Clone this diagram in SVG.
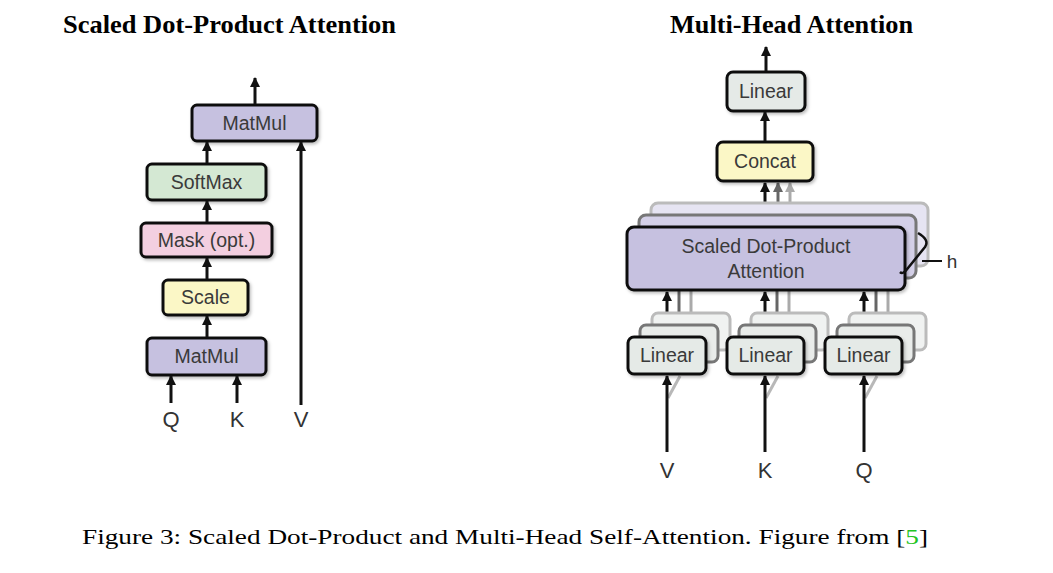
<svg xmlns="http://www.w3.org/2000/svg" width="1053" height="573" viewBox="0 0 1053 573">
<style>
.box{stroke:#111;stroke-width:3}
.lbl{font-family:"Liberation Sans",Arial,sans-serif;font-size:19.5px;fill:#3a3a3a;text-anchor:middle}
.io{font-family:"Liberation Sans",Arial,sans-serif;font-size:22px;fill:#333;text-anchor:middle}
.ttl{font-family:"Liberation Serif","Times New Roman",serif;font-size:25px;font-weight:bold;fill:#000}
.cap{font-family:"Liberation Serif","Times New Roman",serif;font-size:22px;fill:#000}
.ln{stroke:#111;stroke-width:3;fill:none}
.g1{stroke:#666;stroke-width:3;fill:none}
.g2{stroke:#aaa;stroke-width:3;fill:none}
.purple{fill:#c6c1e0}
.green{fill:#d4e8d3}
.pink{fill:#f3cfe0}
.yellow{fill:#fbf7c6}
.grey{fill:#e5eae7}
</style>
<defs>
<marker id="ah" viewBox="0 0 10 10" refX="9" refY="5" markerWidth="3.4" markerHeight="3.4" orient="auto"><path d="M0,0 L10,5 L0,10 z" fill="#111"/></marker>
<marker id="ah1" viewBox="0 0 10 10" refX="9" refY="5" markerWidth="3.4" markerHeight="3.4" orient="auto"><path d="M0,0 L10,5 L0,10 z" fill="#666"/></marker>
<marker id="ah2" viewBox="0 0 10 10" refX="9" refY="5" markerWidth="3.4" markerHeight="3.4" orient="auto"><path d="M0,0 L10,5 L0,10 z" fill="#aaa"/></marker>
<filter id="sh" x="-10%" y="-20%" width="130%" height="150%"><feDropShadow dx="1.5" dy="2" stdDeviation="1.5" flood-color="#000" flood-opacity="0.25"/></filter>
</defs>
<rect width="1053" height="573" fill="#fff"/>

<text class="ttl" x="63" y="33" textLength="333" lengthAdjust="spacingAndGlyphs">Scaled Dot-Product Attention</text>
<text class="ttl" x="670" y="33" textLength="243" lengthAdjust="spacingAndGlyphs">Multi-Head Attention</text>

<g id="connectors">
<line class="ln" x1="255" y1="105" x2="255" y2="78" marker-end="url(#ah)"/>
<line class="ln" x1="207" y1="164" x2="207" y2="142" marker-end="url(#ah)"/>
<line class="ln" x1="207" y1="223" x2="207" y2="201" marker-end="url(#ah)"/>
<line class="ln" x1="207" y1="280" x2="207" y2="258" marker-end="url(#ah)"/>
<line class="ln" x1="207" y1="338" x2="207" y2="316" marker-end="url(#ah)"/>
<line class="ln" x1="171" y1="403" x2="171" y2="376" marker-end="url(#ah)"/>
<line class="ln" x1="237" y1="403" x2="237" y2="376" marker-end="url(#ah)"/>
<line class="ln" x1="301" y1="405" x2="301" y2="142" marker-end="url(#ah)"/>
<line class="ln" x1="766" y1="72" x2="766" y2="47" marker-end="url(#ah)"/>
<line class="ln" x1="765" y1="142" x2="765" y2="112" marker-end="url(#ah)"/>
<line class="g2" x1="790" y1="203" x2="790" y2="183" marker-end="url(#ah2)"/>
<line class="g1" x1="778" y1="215" x2="778" y2="183" marker-end="url(#ah1)"/>
<line class="ln" x1="765" y1="227" x2="765" y2="183" marker-end="url(#ah)"/>
<line class="g2" x1="691" y1="313" x2="691" y2="278"/>
<line class="g1" x1="679" y1="325" x2="679" y2="290"/>
<line class="ln" x1="667" y1="337" x2="667" y2="292" marker-end="url(#ah)"/>
<line class="g2" x1="789" y1="313" x2="789" y2="278"/>
<line class="g1" x1="777" y1="325" x2="777" y2="290"/>
<line class="ln" x1="765" y1="337" x2="765" y2="292" marker-end="url(#ah)"/>
<line class="g2" x1="888" y1="313" x2="888" y2="278"/>
<line class="g1" x1="876" y1="325" x2="876" y2="290"/>
<line class="ln" x1="864" y1="337" x2="864" y2="292" marker-end="url(#ah)"/>
<path d="M668,398 L680,376" stroke="#888" stroke-width="3" opacity="0.6" fill="none"/>
<path d="M766,398 L778,376" stroke="#888" stroke-width="3" opacity="0.6" fill="none"/>
<path d="M865,398 L877,376" stroke="#888" stroke-width="3" opacity="0.6" fill="none"/>
<line class="ln" x1="667" y1="452" x2="667" y2="376" marker-end="url(#ah)"/>
<line class="ln" x1="765" y1="452" x2="765" y2="376" marker-end="url(#ah)"/>
<line class="ln" x1="864" y1="452" x2="864" y2="376" marker-end="url(#ah)"/>
</g>

<g id="matmul-top"><rect class="box purple" x="192" y="105" width="125" height="36" rx="5" filter="url(#sh)"/><text class="lbl" x="254.5" y="130">MatMul</text></g>
<g id="softmax"><rect class="box green" x="147" y="164" width="119" height="36" rx="5" filter="url(#sh)"/><text class="lbl" x="206.5" y="189">SoftMax</text></g>
<g id="mask"><rect class="box pink" x="141" y="223" width="131" height="34" rx="5" filter="url(#sh)"/><text class="lbl" x="206.5" y="247">Mask (opt.)</text></g>
<g id="scale"><rect class="box yellow" x="163" y="280" width="85" height="35" rx="5" filter="url(#sh)"/><text class="lbl" x="205.5" y="304">Scale</text></g>
<g id="matmul-bottom"><rect class="box purple" x="147" y="338" width="119" height="37" rx="5" filter="url(#sh)"/><text class="lbl" x="206.5" y="363">MatMul</text></g>
<g id="q-left"><text class="io" x="171" y="427">Q</text></g>
<g id="k-left"><text class="io" x="237" y="427">K</text></g>
<g id="v-left"><text class="io" x="301" y="427">V</text></g>

<g id="linear-top"><rect class="box grey" x="727" y="72" width="78" height="39" rx="6" filter="url(#sh)"/><text class="lbl" x="766" y="98">Linear</text></g>
<g id="concat"><rect class="box yellow" x="717" y="142" width="96" height="39" rx="6" filter="url(#sh)"/><text class="lbl" x="765" y="168">Concat</text></g>

<g id="sdpa">
<rect x="651" y="203" width="277" height="63" rx="7" fill="#e6e4f2" stroke="#bbb" stroke-width="3"/>
<rect x="639" y="215" width="277" height="63" rx="7" fill="#d4d0e8" stroke="#777" stroke-width="3"/>
<rect class="box purple" x="627" y="227" width="278" height="63" rx="7" filter="url(#sh)"/>
<text class="lbl" x="766" y="253">Scaled Dot-Product</text>
<text class="lbl" x="766" y="278">Attention</text>
</g>
<g id="h-label">
<path d="M918,233 Q930,240 925,247 L908,268 Q903,275 900,272" stroke="#111" stroke-width="2.5" fill="none"/>
<line x1="922" y1="261" x2="942" y2="261" stroke="#111" stroke-width="2"/>
<text class="io" x="952" y="268" style="font-size:19px">h</text>
</g>

<g id="linear-v">
<rect x="652" y="313" width="78" height="37" rx="6" fill="#f0f2f1" stroke="#bbb" stroke-width="3"/>
<rect x="640" y="325" width="78" height="37" rx="6" fill="#e9ecea" stroke="#777" stroke-width="3"/>
<rect class="box grey" x="628" y="337" width="78" height="37" rx="6" filter="url(#sh)"/>
<text class="lbl" x="667" y="362">Linear</text>
</g>
<g id="linear-k">
<rect x="751" y="313" width="77" height="37" rx="6" fill="#f0f2f1" stroke="#bbb" stroke-width="3"/>
<rect x="739" y="325" width="77" height="37" rx="6" fill="#e9ecea" stroke="#777" stroke-width="3"/>
<rect class="box grey" x="727" y="337" width="77" height="37" rx="6" filter="url(#sh)"/>
<text class="lbl" x="765.5" y="362">Linear</text>
</g>
<g id="linear-q">
<rect x="849" y="313" width="77" height="37" rx="6" fill="#f0f2f1" stroke="#bbb" stroke-width="3"/>
<rect x="837" y="325" width="77" height="37" rx="6" fill="#e9ecea" stroke="#777" stroke-width="3"/>
<rect class="box grey" x="825" y="337" width="77" height="37" rx="6" filter="url(#sh)"/>
<text class="lbl" x="863.5" y="362">Linear</text>
</g>
<g id="v-right"><text class="io" x="667" y="478">V</text></g>
<g id="k-right"><text class="io" x="765" y="478">K</text></g>
<g id="q-right"><text class="io" x="864" y="478">Q</text></g>

<text class="cap" x="82" y="544" textLength="846" lengthAdjust="spacingAndGlyphs">Figure 3: Scaled Dot-Product and Multi-Head Self-Attention. Figure from [<tspan fill="#22c322">5</tspan>]</text>
</svg>
